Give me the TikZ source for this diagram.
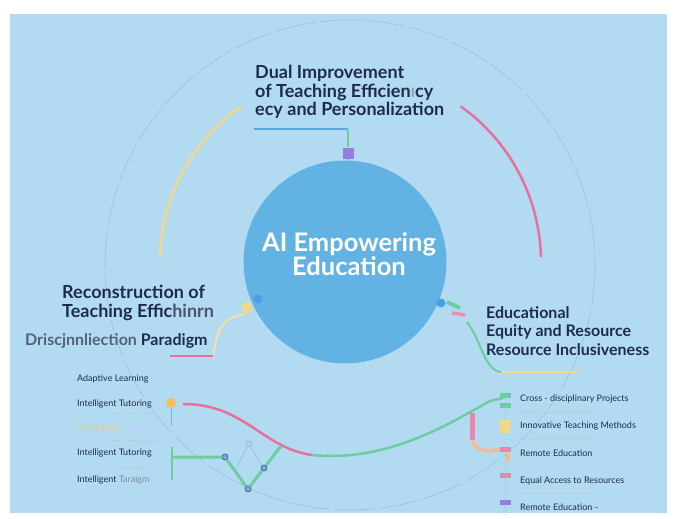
\documentclass[tikz,border=0pt]{standalone}
\usepackage{fontspec}
\setmainfont{Lato}
\usetikzlibrary{calc}
\definecolor{bgblue}{RGB}{178,219,241}
\definecolor{hubblue}{RGB}{99,178,228}
\definecolor{navy}{RGB}{30,43,77}
\definecolor{rosepink}{RGB}{232,112,158}
\definecolor{sandyellow}{RGB}{242,216,140}
\definecolor{mint}{RGB}{110,205,160}
\definecolor{lineblue}{RGB}{90,168,222}
\definecolor{lilac}{RGB}{150,125,225}
\definecolor{peach}{RGB}{240,190,150}
\definecolor{dotblue}{RGB}{55,105,165}
\definecolor{ringgray}{RGB}{130,170,200}
\definecolor{tipblue}{RGB}{70,160,230}

\begin{document}
\begin{tikzpicture}[x=1pt, y=-1pt,
  head/.style={font=\fontsize{18}{18.5}\selectfont\bfseries, text=navy,
               inner sep=0pt, align=left},
  subhead/.style={font=\fontsize{16}{18.5}\selectfont\bfseries, text=navy,
               inner sep=0pt, align=left},
  item/.style={font=\fontsize{9}{10}\selectfont, text=navy,
               inner sep=0pt, anchor=west},
  band/.style={line width=2.5pt},
  tag/.style={inner sep=0pt, minimum width=11pt, minimum height=5pt},
  sepline/.style={navy!30, opacity=.5, line width=.6pt},
  knot/.style={circle, inner sep=0pt, minimum size=6pt, draw=dotblue,
               fill=dotblue!60, line width=.8pt}
]
\fill[white] (0,0) rectangle (675,519);
\fill[bgblue] (10,14) rectangle (667,513);
\useasboundingbox (0,0) rectangle (675,519);

\draw[ringgray, line width=.7pt, opacity=.45, dash pattern=on 40pt off 5pt]
  (350,265) circle[radius=245];

\node[circle, fill=hubblue, minimum size=203pt, inner sep=0pt] (hub) at (345,262) {};
\node[font=\fontsize{25.5}{24}\selectfont\bfseries, text=white, align=center]
  (hubtext) at (349,254) {AI Empowering\\Education};

% top branch
\node[head, anchor=north west] (dual) at (255,65)
  {Dual Improvement\\of Teaching Efficien\textcolor{navy!45}{ı}cy\\ecy and Personalization};
\coordinate (dualend) at (254,129);
\coordinate (dualturn) at (348,129);
\node[tag, fill=lilac, minimum width=11pt, minimum height=11pt] (dualsq) at (348,153) {};
\draw[lineblue, band] (dualend) -- (dualturn);
\draw[mint, line width=2pt] (dualturn) -- (dualsq.north);
\draw[mint, line width=2pt] (dualsq.south) -- (dualsq.south |- hub.north);

\draw[sandyellow, band] (350,262) ++(-124.6:190) arc[start angle=-124.6, end angle=-178.5, radius=190];
\draw[rosepink, band] (350,262) ++(-54.6:191) arc[start angle=-54.6, end angle=-1.5, radius=191];

% left branch
\node[head, anchor=north west] (recon) at (62,285)
  {Reconstruction of\\Teaching Effic\textcolor{navy!80}{hinrn}};
\node[subhead, anchor=base west] (paradigm) at (25,345)
  {\textcolor{navy!75}{Driscjnnliection} Paradigm};
\node[rounded corners=2pt, fill=sandyellow, minimum size=10pt, inner sep=0pt, rotate=20]
  (ldot) at (247,308) {};
\fill[tipblue] (258,299) circle[radius=4.5];
\coordinate (lfoot) at (213,356);
\coordinate (lend) at (170,356);
\draw[sandyellow!80, line width=2pt] (ldot.south west) .. controls (220,318) and (217,332) .. (lfoot);
\draw[rosepink, band] (lend) -- (lfoot);

% right branch
\node[subhead, anchor=north west] (equity) at (486,306)
  {Educational\\Equity and Resource\\Resource Inclusiveness};
\fill[tipblue] (441,303) circle[radius=4.5];
\coordinate (rtip) at (447,302);
\coordinate (rtipend) at (460,308);
\draw[mint, line width=4pt] (rtip) -- (rtipend);
\draw[rosepink!80, line width=3.5pt] (452,313) -- (465,315);
\coordinate (rstart) at (467,322);
\coordinate (rfoot) at (501,372);
\coordinate (rend) at (580,372);
\draw[mint, line width=2pt] (rstart) .. controls (482,342) and (484,370) .. (rfoot);
\draw[sandyellow, band] (rfoot) -- (rend);

% left list
\node[item] (l1) at (77,379) {Adaptive Learning};
\node[item] (l2) at (77,404) {Intelligent Tutoring};
\node[item, text=sandyellow!80!orange] (l3) at (77,428) {Integration \quad .....};
\node[item] (l4) at (77,453) {Intelligent Tutoring};
\node[item] (l5) at (77,480) {Intelligent \textcolor{navy!55}{Taraigm}};
\draw[sepline, dash pattern=on 12pt off 3pt] (113,413) -- (155,413);
\draw[sepline, dash pattern=on 12pt off 3pt] (108,440) -- (155,440);
\draw[sepline, dash pattern=on 12pt off 3pt] (122,467) -- (155,467);

\node[circle, fill=sandyellow!70!orange, minimum size=10pt, inner sep=0pt] (odot) at (171,403) {};
\draw[lineblue!80, line width=.8pt] (odot.south) -- ++(0,18);

\coordinate (wave) at (312,455);
\coordinate (wavestart) at (183,404);
\coordinate (waveend) at (503,398);
\draw[rosepink, band] (wavestart) .. controls (245,404) and (262,448) .. (wave);
\draw[mint, band] (wave) .. controls (390,463) and (455,420) .. (490,401) -- (waveend);

\coordinate (zz0) at (172,457);
\node[knot] (k1) at (225,457) {};
\node[knot] (k2) at (248,489) {};
\node[knot] (k3) at (264,468) {};
\node[knot, draw=lineblue!70, fill=lineblue!50] (k0) at (249,444) {};
\coordinate (zzend) at (281,446);
\draw[mint, line width=2pt] (172,447) -- (172,480);
\draw[mint, line width=3pt] (zz0) -- (k1) -- (k2) -- (k3) -- (zzend);
\draw[lineblue!70, line width=.7pt] (236,468) -- (k0) -- (262,466);

% right list
\draw[lineblue!60, line width=.6pt, dash pattern=on 2pt off 2pt] (505,398) -- (505,515);
\node[tag, fill=mint] (m1a) at (505.5,395.5) {};
\node[tag, fill=mint] (m1b) at (505.5,405.5) {};
\node[tag, fill=sandyellow, minimum width=10pt, minimum height=13pt] (m2) at (505,426) {};
\node[tag, fill=peach, minimum width=4pt, minimum height=12pt] (m3b) at (508,456) {};
\node[tag, fill=rosepink!85] (m3) at (505.5,449.5) {};
\node[tag, fill=rosepink!85] (m4) at (505.5,475.5) {};
\node[tag, fill=lilac] (m5) at (505.5,502) {};
\node[item] (r1) at (520,399) {Cross - disciplinary Projects};
\node[item] (r2) at (520,426) {Innovative Teaching Methods};
\node[item] (r3) at (520,453) {Remote Education};
\node[item] (r4) at (520,481) {Equal Access to Resources};
\node[item] (r5) at (520,507) {Remote Education -};
\draw[sepline] (520,412) -- (592,412);
\draw[sepline] (520,438) -- (592,438);
\draw[sepline] (520,493) -- (592,493);

\coordinate (pbar) at (472,413);
\coordinate (pbarend) at (472,440);
\draw[rosepink!85, line width=5pt] (pbar) -- (pbarend);
\draw[peach, line width=4pt] (pbarend) .. controls (476,452) and (488,452) .. (m3.west);
\end{tikzpicture}
\end{document}
